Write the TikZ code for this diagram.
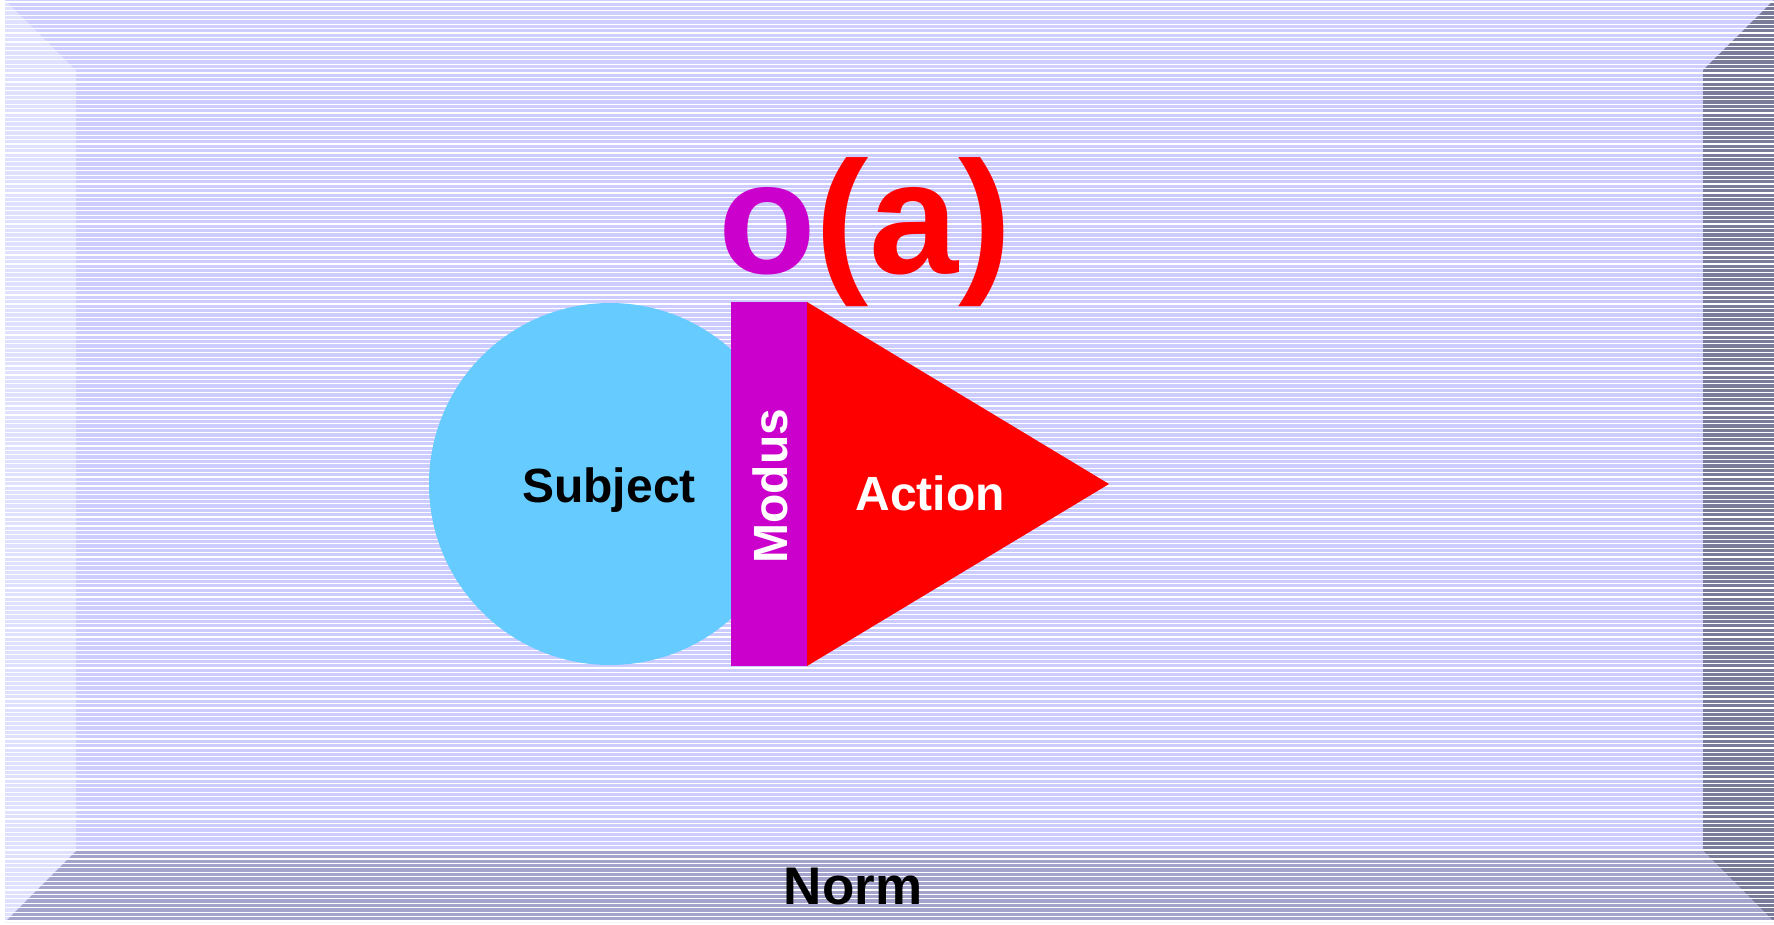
\documentclass[tikz,border=0pt]{standalone}
\usepackage{fontspec}
\setmainfont{Liberation Sans}
\definecolor{lav}{HTML}{CCCCFF}
\definecolor{bevleft}{HTML}{E0E0FF}
\definecolor{bevtop}{HTML}{CFCFFF}
\definecolor{bevbottom}{HTML}{A3A3CC}
\definecolor{bevright}{HTML}{7A7A99}
\definecolor{subjcol}{HTML}{66CCFF}
\definecolor{moduscol}{HTML}{CC00CC}
\definecolor{actcol}{HTML}{FF0000}
\tikzset{
  lbl/.style={inner sep=0pt, anchor=base, font=\bfseries\fontsize{48}{56}\selectfont},
  stripe/.style={white, line width=1.2pt}
}
\begin{document}
\begin{tikzpicture}[x=1pt,y=-1pt]
\useasboundingbox (0,0) rectangle (1774,924);
% bevelled frame
\fill[lav] (5,0) rectangle (1774,922);
\fill[bevleft] (5,0) -- (76,70) -- (76,851) -- (5,922) -- cycle;
\fill[bevtop] (5,0) -- (1774,0) -- (1703,70) -- (76,70) -- cycle;
\fill[bevright] (1774,0) -- (1774,922) -- (1703,851) -- (1703,70) -- cycle;
\fill[bevbottom] (5,922) -- (76,851) -- (1703,851) -- (1774,922) -- cycle;
\foreach \i in {0,...,207} {
  \draw[stripe] (5,{\i*4.44+2}) -- (1774,{\i*4.44+2});
}
% shapes
\node[circle, fill=subjcol, minimum size=362pt, inner sep=0pt] (subject) at (610,484) {};
\coordinate (atop) at (807,302);
\coordinate (abot) at (807,666);
\coordinate (apex) at (1109,484);
\fill[actcol] (atop) -- (abot) -- (apex) -- cycle;
\node[fill=moduscol, minimum width=76pt, minimum height=364pt, inner sep=0pt, anchor=north west] (modus) at (731,302) {};
% labels
\node[lbl] (subjtext) at (609,502) {Subject};
\node[lbl, text=white] (acttext) at (930,510) {Action};
\node[lbl, text=white, rotate=90] (modtext) at (787,486) {Modus};
\node[lbl, font=\bfseries\fontsize{53}{62}\selectfont] (norm) at (853,904) {Norm};
\node[inner sep=0pt, anchor=base west, font=\bfseries\fontsize{160}{190}\selectfont] (oa) at (718,273) {\textcolor{moduscol}{o}\textcolor{actcol}{(a)}};
\end{tikzpicture}
\end{document}
